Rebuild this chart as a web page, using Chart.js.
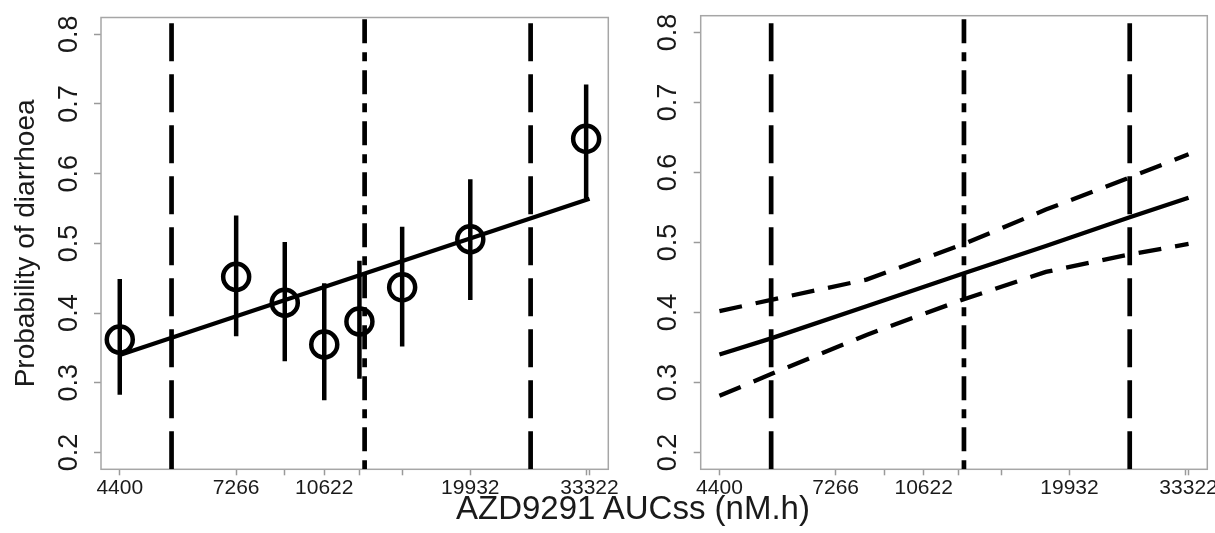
<!DOCTYPE html>
<html>
<head>
<meta charset="utf-8">
<script src="https://cdn.jsdelivr.net/npm/chart.js@4.4.0/dist/chart.umd.min.js"></script>
<style>
  body { margin: 0; background: #fff; width: 1215px; height: 533px; position: relative; overflow: hidden; }
  canvas { position: absolute; top: 0; }
  #left { left: 0; }
  #right { left: 640px; }
  #xtitle { position: absolute; left: 0; width: 1266px; top: 491px; text-align: center;
            font: 33px/33px 'Liberation Sans', Arial, sans-serif; color: #1a1a1a; }
</style>
</head>
<body>
<canvas id="left" width="640" height="533"></canvas>
<canvas id="right" width="575" height="533"></canvas>
<div id="xtitle">AZD9291 AUCss (nM.h)</div>
<script>
// observed proportions per exposure bin (left panel)
var binAUC = [4400, 7266, 8960, 10622, 12360, 14860, 19932, 32840];
var binProb = [0.362, 0.452, 0.415, 0.355, 0.388, 0.437, 0.506, 0.650];
var binLower = [0.283, 0.367, 0.331, 0.275, 0.306, 0.352, 0.419, 0.564];
var binUpper = [0.449, 0.540, 0.502, 0.443, 0.475, 0.524, 0.592, 0.728];

// model prediction with 95% CI
var fitAUC = [4400, 5500, 8300, 12640, 18000, 25850, 33322];
var fitProb = [0.340, 0.363, 0.409, 0.456, 0.495, 0.536, 0.564];
var fitUpper = [0.402, 0.418, 0.447, 0.498, 0.547, 0.593, 0.626];
var fitLower = [0.281, 0.312, 0.368, 0.419, 0.458, 0.483, 0.498];

// exposure quartiles
var quartileAUC = [5500, 25850];
var medianAUC = 12640;

// axes
var xTicks = [4400, 7266, 8960, 10622, 12360, 14860, 19932, 32840, 33322];
var xTickLabels = [4400, 7266, 10622, 19932, 33322];
var yTicks = [0.2, 0.3, 0.4, 0.5, 0.6, 0.7, 0.8];
var xMin = 4058, xMax = 36130;
var yMin = 0.176, yMax = 0.824;

Chart.defaults.font.family = "'Liberation Sans', Arial, sans-serif";
Chart.defaults.color = '#1a1a1a';

var LONGDASH = [38, 13];
var DOTDASH = [9, 9, 24, 9];
var SHORTDASH = [23, 14];

function pts(xs, ys) {
    return xs.map(function (x, i) { return { x: x, y: ys[i] }; });
}

function vline(x, dash) {
    return {
        data: [{ x: x, y: yMin }, { x: x, y: yMax }],
        showLine: true, borderColor: '#000', borderWidth: 4.7,
        borderDash: dash, pointRadius: 0, borderCapStyle: 'butt'
    };
}

function curve(ys, dash) {
    return {
        data: pts(fitAUC, ys),
        showLine: true, borderColor: '#000', borderWidth: 4.3,
        borderDash: dash, pointRadius: 0, borderCapStyle: 'butt', tension: 0
    };
}

var boxPlugin = {
    id: 'box',
    beforeDatasetsDraw: function (chart) {
        var a = chart.chartArea, ctx = chart.ctx;
        ctx.save();
        ctx.strokeStyle = '#a6a6a6';
        ctx.lineWidth = 1.5;
        ctx.strokeRect(a.left, a.top, a.right - a.left, a.bottom - a.top);
        ctx.restore();
    }
};

function makeOptions(showYTitle, yAxisWidth, rightPad) {
    return {
        responsive: false,
        animation: false,
        devicePixelRatio: 1,
        layout: { padding: { top: 15.7, right: rightPad, left: 0, bottom: 0 } },
        plugins: { legend: { display: false }, tooltip: { enabled: false } },
        scales: {
            x: {
                type: 'logarithmic', min: xMin, max: xMax,
                afterBuildTicks: function (s) { s.ticks = xTicks.map(function (v) { return { value: v }; }); },
                afterFit: function (s) { s.height = 63.7; s.paddingLeft = 0; s.paddingRight = 0; },
                grid: { drawOnChartArea: false, drawTicks: true, tickLength: 6, tickColor: '#9a9a9a', tickWidth: 1.5 },
                border: { display: false },
                ticks: {
                    autoSkip: false, minRotation: 0, maxRotation: 0, padding: 0,
                    font: { size: 21 },
                    callback: function (v) { return xTickLabels.indexOf(v) >= 0 ? String(v) : ''; }
                }
            },
            y: {
                type: 'linear', min: yMin, max: yMax,
                afterBuildTicks: function (s) { s.ticks = yTicks.map(function (v) { return { value: v }; }); },
                afterFit: function (s) { s.width = yAxisWidth; s.paddingTop = 0; s.paddingBottom = 0; },
                grid: { drawOnChartArea: false, drawTicks: true, tickLength: 7, tickColor: '#9a9a9a', tickWidth: 1.5 },
                border: { display: false },
                ticks: {
                    minRotation: 90, maxRotation: 90, crossAlign: 'center', padding: 6,
                    font: { size: 27 },
                    callback: function (v) { return v.toFixed(1); }
                },
                title: {
                    display: showYTitle, text: 'Probability of diarrhoea',
                    font: { size: 28 }, padding: { top: 9, bottom: 0 }
                }
            }
        }
    };
}

// error bars as one broken line
var barData = [];
binAUC.forEach(function (x, i) {
    barData.push({ x: x, y: binLower[i] }, { x: x, y: binUpper[i] }, { x: x, y: null });
});

new Chart(document.getElementById('left'), {
    type: 'scatter',
    data: {
        datasets: [
            {
                data: pts(binAUC, binProb),
                pointStyle: 'circle', pointRadius: 13, borderWidth: 4.5,
                pointBorderColor: '#000', pointBackgroundColor: 'rgba(0,0,0,0)'
            },
            {
                data: barData, showLine: true, spanGaps: false,
                borderColor: '#000', borderWidth: 4.5, pointRadius: 0, borderCapStyle: 'butt'
            },
            {
                data: [{ x: fitAUC[0], y: fitProb[0] }, { x: fitAUC[fitAUC.length - 1], y: fitProb[fitProb.length - 1] }],
                showLine: true, borderColor: '#000', borderWidth: 4.2, pointRadius: 0
            },
            vline(quartileAUC[0], LONGDASH),
            vline(medianAUC, DOTDASH),
            vline(quartileAUC[1], LONGDASH)
        ]
    },
    options: makeOptions(true, 101, 31.7),
    plugins: [boxPlugin]
});

new Chart(document.getElementById('right'), {
    type: 'scatter',
    data: {
        datasets: [
            curve(fitProb, []),
            curve(fitUpper, SHORTDASH),
            curve(fitLower, SHORTDASH),
            vline(quartileAUC[0], LONGDASH),
            vline(medianAUC, DOTDASH),
            vline(quartileAUC[1], LONGDASH)
        ]
    },
    options: makeOptions(false, 60.7, 7.7),
    plugins: [boxPlugin]
});
</script>
</body>
</html>
